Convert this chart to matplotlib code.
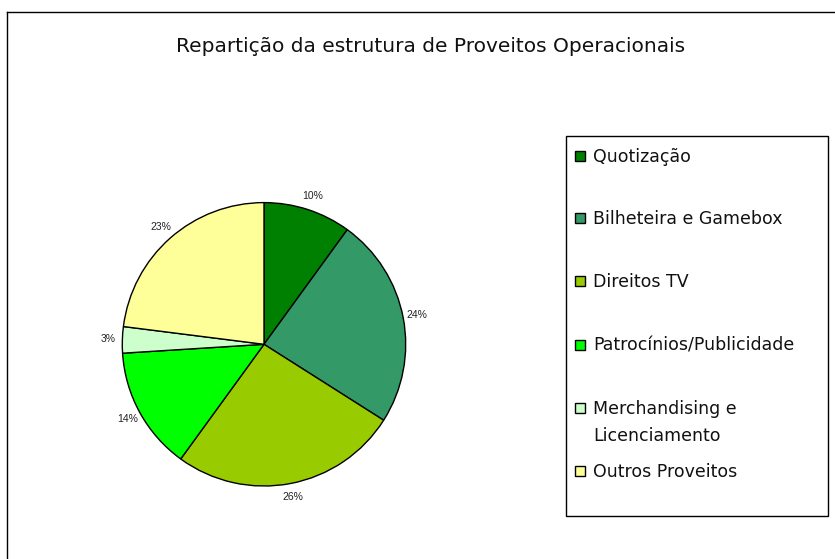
import matplotlib
matplotlib.use("Agg")
import matplotlib.pyplot as plt
from matplotlib.patches import Rectangle
from matplotlib.lines import Line2D

# data
categories = ["Quotização", "Bilheteira e Gamebox", "Direitos TV",
              "Patrocínios/Publicidade", "Merchandising e\nLicenciamento",
              "Outros Proveitos"]
shares = [10, 24, 26, 14, 3, 23]
colors = ["#008000", "#339966", "#99CC00", "#00FF00", "#CCFFCC", "#FFFF99"]
title = "Repartição da estrutura de Proveitos Operacionais"

W, H = 835, 559
fig = plt.figure(figsize=(W / 100, H / 100), dpi=100)
fig.patch.set_facecolor("white")

# outer frame (only left and top edges show)
fig.add_artist(Line2D([7 / W, 7 / W], [0, 1 - 12 / H], transform=fig.transFigure,
                      color="black", lw=1))
fig.add_artist(Line2D([7 / W, 1], [1 - 12 / H, 1 - 12 / H], transform=fig.transFigure,
                      color="black", lw=1))

fig.text(431 / W, 1 - 47 / H, title, ha="center", va="center",
         fontsize=14.5, family="DejaVu Sans", color="#111111")

# pie
cx, cy, r = 264, 344.3, 141.7
ax = fig.add_axes([(cx - r) / W, (H - cy - r) / H, 2 * r / W, 2 * r / H])
wedges, _, pcts = ax.pie(shares, colors=colors, startangle=90, counterclock=False,
                         autopct="%.0f%%", pctdistance=1.10,
                         wedgeprops=dict(edgecolor="black", linewidth=1))
for t in pcts:
    t.set_fontsize(7.5)
    t.set_family("Liberation Sans")
    t.set_color("#222222")
ax.set_xlim(-1, 1)
ax.set_ylim(-1, 1)
ax.set_aspect("equal")
ax.axis("off")

# legend box drawn by hand to match the spacing
bx0, by0, bx1, by1 = 566, 136, 828, 516
fig.add_artist(Rectangle((bx0 / W, 1 - by1 / H), (bx1 - bx0) / W, (by1 - by0) / H,
                         transform=fig.transFigure, fill=False, edgecolor="black",
                         lw=1))
row_y = [156, 218, 281, 345, 408, 471]
for name, col, y in zip(categories, colors, row_y):
    fig.add_artist(Rectangle((575 / W, 1 - (y + 5) / H), 10 / W, 10 / H,
                             transform=fig.transFigure, facecolor=col,
                             edgecolor="black", lw=1))
    for k, line in enumerate(name.split("\n")):
        fig.text(593 / W, 1 - (y + 6 + 27 * k) / H, line, ha="left",
                 va="baseline", fontsize=12.5, family="DejaVu Sans",
                 color="#111111")

fig.savefig("out.png", dpi=100)
